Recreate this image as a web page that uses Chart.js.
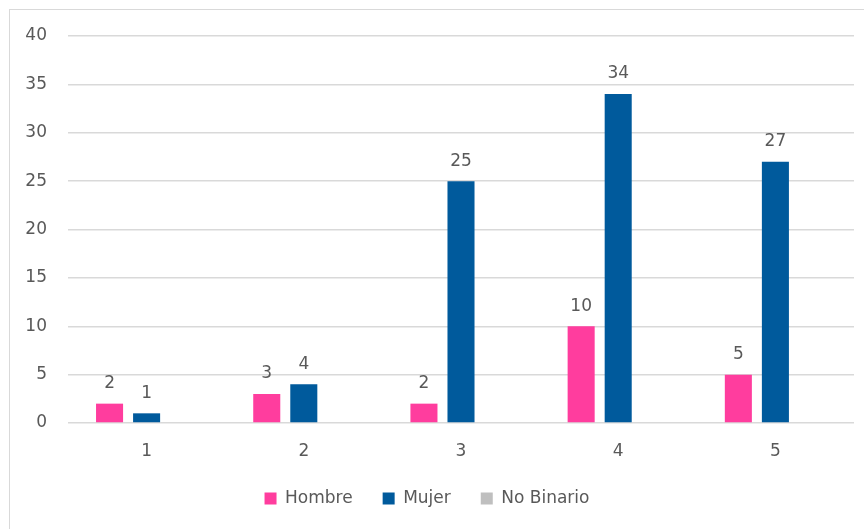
<!DOCTYPE html>
<html>
<head>
<meta charset="utf-8">
<script src="https://cdn.jsdelivr.net/npm/chart.js@4"></script>
<style>
  body { margin: 0; background: #fff; }
  #wrap { position: relative; width: 864px; height: 529px; }
  #frame {
    position: absolute; left: 9px; top: 9px; width: 870px; height: 540px;
    border-left: 1.5px solid #d9d9d9; border-top: 1.5px solid #d9d9d9;
    pointer-events: none;
  }
</style>
</head>
<body>
<div id="wrap">
  <canvas id="grafico" width="864" height="529"></canvas>
  <div id="frame"></div>
</div>
<script>
const categorias = ["1", "2", "3", "4", "5"];
const hombre = [2, 3, 2, 10, 5];
const mujer = [1, 4, 25, 34, 27];
const noBinario = [0, 0, 0, 0, 0];
const ticksY = [0, 5, 10, 15, 20, 25, 30, 35, 40];

const FUENTE = "'DejaVu Sans', sans-serif";
const GRIS_TEXTO = "#595959";

// etiquetas de valor encima de cada barra (no se muestran los ceros)
const etiquetasValor = {
  id: "etiquetasValor",
  afterDatasetsDraw(chart) {
    const ctx = chart.ctx;
    ctx.save();
    ctx.font = "17px " + FUENTE;
    ctx.fillStyle = GRIS_TEXTO;
    ctx.textAlign = "center";
    ctx.textBaseline = "middle";
    chart.data.datasets.forEach((ds, i) => {
      const meta = chart.getDatasetMeta(i);
      meta.data.forEach((bar, j) => {
        const v = ds.data[j];
        if (!v) return;
        ctx.fillText(String(v), bar.x, bar.y - 20);
      });
    });
    ctx.restore();
  },
};

init();

function init() {
  new Chart(document.getElementById("grafico"), {
    type: "bar",
    data: {
      labels: categorias,
      datasets: [
        { label: "Hombre", data: hombre, backgroundColor: "#ff3d9e" },
        { label: "Mujer", data: mujer, backgroundColor: "#005a9c" },
        { label: "No Binario", data: noBinario, backgroundColor: "#bfbfbf" },
      ],
    },
    options: {
      responsive: false,
      animation: false,
      categoryPercentage: 0.707,
      barPercentage: 0.73,
      layout: { padding: { top: 36, right: 10, left: 0, bottom: 12 } },
      plugins: {
        tooltip: { enabled: false },
        legend: {
          position: "bottom",
          labels: {
            color: GRIS_TEXTO,
            font: { family: FUENTE, size: 17 },
            boxWidth: 12,
            boxHeight: 12,
            padding: 30,
          },
        },
      },
      scales: {
        x: {
          grid: { display: false },
          border: { display: false },
          ticks: { color: GRIS_TEXTO, font: { family: FUENTE, size: 17 }, padding: 10 },
          afterFit(scale) { scale.height = 37; },
        },
        y: {
          min: 0,
          max: 40,
          afterBuildTicks(scale) { scale.ticks = ticksY.map(v => ({ value: v })); },
          afterFit(scale) { scale.width = 68; },
          grid: { color: "#d9d9d9", lineWidth: 1.5, drawTicks: false },
          border: { display: false },
          ticks: { color: GRIS_TEXTO, font: { family: FUENTE, size: 17 }, padding: 21 },
        },
      },
    },
    plugins: [etiquetasValor],
  });
}
</script>
</body>
</html>
